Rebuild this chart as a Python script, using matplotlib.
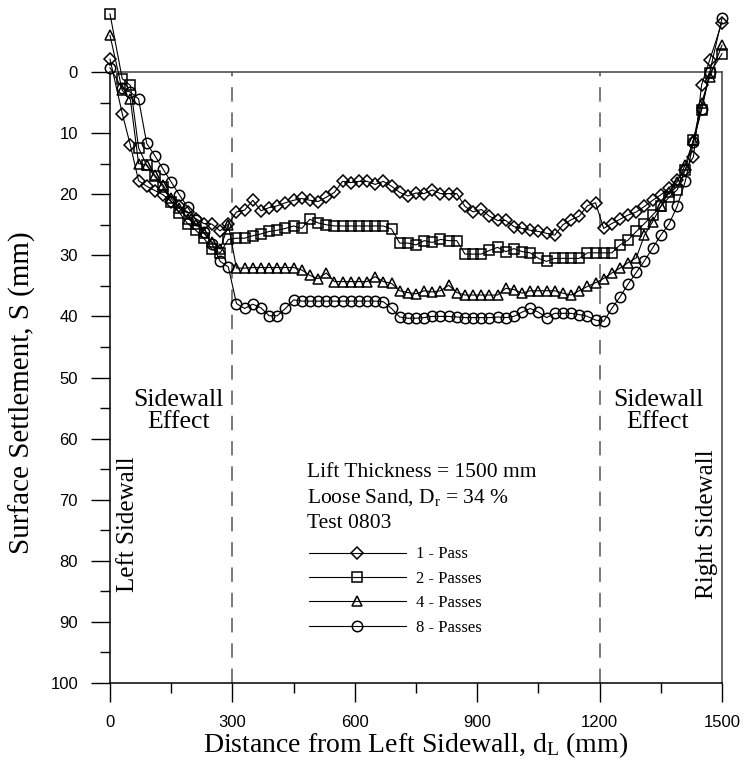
import numpy as np
import matplotlib
matplotlib.use("Agg")
import matplotlib.pyplot as plt
from matplotlib.ticker import MultipleLocator

plt.rcParams['mathtext.fontset'] = 'custom'
plt.rcParams['mathtext.rm'] = 'Liberation Serif'
plt.rcParams['mathtext.it'] = 'Liberation Serif:italic'

# ---------------- data ----------------
distance = [0] + list(range(30, 1471, 20)) + [1500]

pass1 = [-2.1, 6.8, 12.0, 17.8, 18.7, 19.4, 20.1, 21.2, 22.0, 22.9, 24.0, 24.8, 24.9, 26.0, 24.9,
         22.9, 22.6, 21.0, 22.7, 22.2, 21.9, 21.4, 21.0, 20.7, 21.0, 21.2, 20.5, 19.7, 17.9, 18.1,
         17.9, 17.9, 18.4, 17.9, 18.7, 19.7, 20.3, 19.8, 19.9, 19.3, 19.9, 19.9, 19.9, 22.0, 22.9,
         22.5, 23.6, 24.3, 24.3, 25.3, 25.6, 25.9, 26.1, 26.4, 26.7, 25.0, 24.2, 23.6, 21.9, 21.4,
         25.6, 24.8, 24.1, 23.4, 22.9, 22.0, 21.0, 20.1, 19.0, 17.7, 16.0, 13.9, 2.1, -2.0, -8.1]

pass2 = [-9.5, 1.1, 2.2, 12.4, 15.3, 17.1, 18.8, 21.2, 23.0, 24.8, 25.9, 27.2, 29.0, 29.6, 27.4,
         27.2, 27.2, 26.8, 26.5, 26.1, 25.9, 25.6, 25.2, 25.6, 24.1, 24.7, 25.0, 25.2, 25.2, 25.2,
         25.2, 25.2, 25.2, 25.2, 25.7, 28.0, 28.0, 28.3, 27.6, 27.9, 27.4, 27.6, 27.6, 29.8, 29.8,
         29.8, 29.2, 28.7, 29.4, 28.9, 29.4, 29.6, 30.5, 31.0, 30.5, 30.5, 30.5, 30.5, 29.6, 29.6,
         29.6, 29.6, 28.3, 27.5, 26.1, 24.8, 23.4, 22.0, 20.5, 19.3, 16.0, 11.1, 6.2, 0.2, -3.0]

pass4 = [-6.0, 3.0, 4.5, 15.0, 15.2, 16.9, 18.5, 20.7, 22.3, 24.0, 24.8, 26.4, 27.8, 29.0, 25.0,
         32.1, 32.1, 32.0, 32.0, 32.0, 32.0, 32.0, 32.0, 32.4, 33.3, 33.8, 32.9, 34.3, 34.3, 34.3,
         34.3, 34.3, 33.5, 34.3, 34.6, 35.8, 36.1, 36.3, 35.8, 36.0, 35.8, 34.9, 36.1, 36.5, 36.5,
         36.5, 36.5, 36.5, 35.4, 35.6, 36.2, 35.8, 35.8, 35.8, 35.8, 36.2, 36.5, 35.8, 35.1, 34.5,
         33.8, 32.9, 32.1, 31.2, 30.4, 26.7, 24.5, 22.0, 19.6, 18.0, 15.2, 11.1, 5.0, 0.8, -4.4]

pass8 = [-0.7, 2.7, 3.3, 4.4, 11.7, 13.7, 15.9, 18.0, 20.1, 22.1, 24.2, 26.2, 28.1, 31.0, 31.9,
         37.9, 38.7, 38.0, 38.6, 39.9, 39.9, 38.7, 37.3, 37.5, 37.5, 37.5, 37.5, 37.5, 37.5, 37.5,
         37.5, 37.5, 37.5, 37.6, 38.7, 40.1, 40.3, 40.3, 40.2, 40.0, 40.0, 40.0, 40.1, 40.2, 40.2,
         40.2, 40.2, 40.1, 40.2, 40.0, 39.3, 38.7, 39.3, 40.2, 39.5, 39.5, 39.5, 39.7, 40.0, 40.6,
         40.8, 38.7, 36.8, 34.7, 32.8, 30.9, 28.8, 26.7, 24.9, 22.0, 17.9, 11.5, 6.0, 0.0, -8.8]

series_labels = ['1 - Pass', '2 - Passes', '4 - Passes', '8 - Passes']
series_values = [pass1, pass2, pass4, pass8]
series_markers = ['D', 's', '^', 'o']
marker_sizes = [6.0, 7.5, 7.5, 7.5]

x_ticks = [0, 300, 600, 900, 1200, 1500]
y_ticks = [0, 10, 20, 30, 40, 50, 60, 70, 80, 90, 100]
zone_bounds = [300, 1200]

# ---------------- figure ----------------
fig = plt.figure(figsize=(7.45, 7.67), dpi=100)
ax = fig.add_axes([110/745, 1 - 683/767, 612/745, 611/767])

handles = []
for vals, lab, mk, ms in zip(series_values, series_labels, series_markers, marker_sizes):
    h, = ax.plot(distance, vals, color='black', lw=0.8, marker=mk, ms=ms,
                 mfc='none', mec='black', mew=1.1, label=lab, clip_on=False, zorder=3)
    handles.append(h)

for xb in zone_bounds:
    ax.axvline(xb, color='#707070', lw=1.3, ls=(0, (8, 6)), zorder=1)

ax.set_xlim(0, 1500)
ax.set_ylim(100, 0)
ax.set_xticks(x_ticks)
ax.set_yticks(y_ticks)
ax.xaxis.set_minor_locator(MultipleLocator(150))
ax.yaxis.set_minor_locator(MultipleLocator(5))
ax.tick_params(which='major', direction='out', length=14, width=1.0, pad=9,
               labelsize=12)
ax.tick_params(which='minor', direction='out', length=7, width=1.0)
for lab in ax.get_xticklabels() + ax.get_yticklabels():
    lab.set_fontfamily('Liberation Sans')

for side in ['left', 'bottom']:
    ax.spines[side].set_linewidth(1.1)
for side in ['top', 'right']:
    ax.spines[side].set_linewidth(1.1)
    ax.spines[side].set_color('#404040')

serif = 'Liberation Serif'
ax.set_xlabel(r'Distance from Left Sidewall, d$_{\rm L}$ (mm)', fontfamily=serif, fontsize=20)
ax.set_ylabel('Surface Settlement, S (mm)', fontfamily=serif, fontsize=21)
ax.xaxis.set_label_coords(0.5, -0.101)
ax.xaxis.label.set_va('center')
ax.yaxis.set_label_coords(-0.144, 0.475)
ax.yaxis.label.set_va('center')

ax.text(167, 55.5, 'Sidewall\nEffect', fontfamily=serif, fontsize=18.5,
        ha='center', va='center', linespacing=1.02)
ax.text(1343, 55.5, 'Sidewall\nEffect', fontfamily=serif, fontsize=18.5,
        ha='center', va='center', linespacing=1.02)
ax.text(44, 74, 'Left Sidewall', fontfamily=serif, fontsize=18,
        ha='center', va='center', rotation=90)
ax.text(1463, 74, 'Right Sidewall', fontfamily=serif, fontsize=18,
        ha='center', va='center', rotation=90)

ax.text(483, 65.6, 'Lift Thickness = 1500 mm', fontfamily=serif, fontsize=15.5,
        ha='left', va='center')
ax.text(483, 69.7, r'Loose Sand, D$_{\rm r}$ = 34 %', fontfamily=serif, fontsize=15.5,
        ha='left', va='center')
ax.text(483, 73.9, 'Test 0803', fontfamily=serif, fontsize=15.5,
        ha='left', va='center')

leg = fig.legend(handles=handles, loc='center left',
                 bbox_to_anchor=(309/745, 1 - 591/767), frameon=False,
                 prop={'family': serif, 'size': 12}, handlelength=5.8,
                 handletextpad=0.6, labelspacing=0.5, borderpad=0,
                 borderaxespad=0, numpoints=1)

fig.savefig('out.png', dpi=100)
